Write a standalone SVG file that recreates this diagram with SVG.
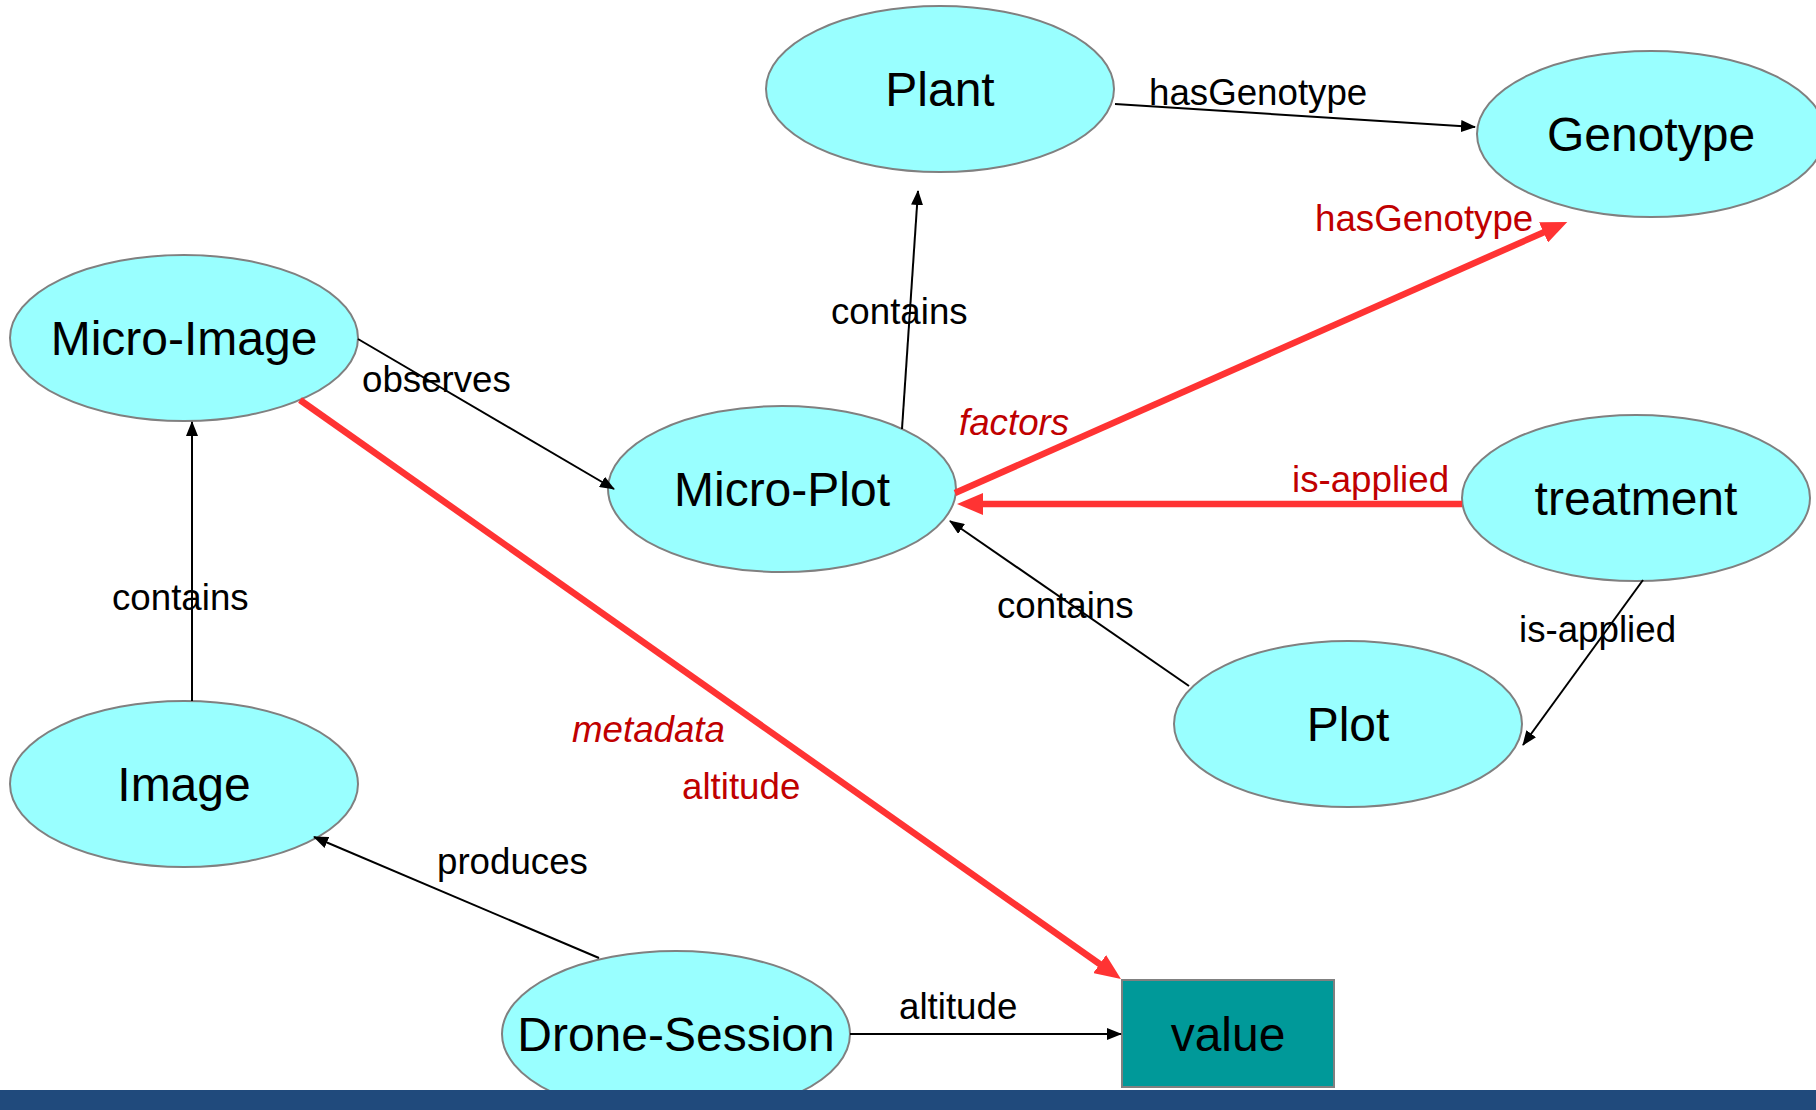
<svg xmlns="http://www.w3.org/2000/svg" width="1816" height="1110" viewBox="0 0 1816 1110">
<style>
.node{fill:#99FFFF;stroke:#808080;stroke-width:2}
.nt{font-family:"Liberation Sans",Arial,sans-serif;font-size:48px;fill:#000;text-anchor:middle}
.lbl{font-family:"Liberation Sans",Arial,sans-serif;font-size:36.7px;fill:#000}
.rl{font-family:"Liberation Sans",Arial,sans-serif;font-size:36.7px;fill:#C00000}
.it{font-style:italic}
.bl{stroke:#000;stroke-width:2;fill:none;marker-end:url(#ab)}
.rd{stroke:#FF3333;stroke-width:6.5;fill:none;marker-end:url(#ar)}
</style>
<defs>
<marker id="ab" markerUnits="userSpaceOnUse" markerWidth="15" markerHeight="12" refX="14" refY="6" orient="auto"><path d="M0,0 L15,6 L0,12 z" fill="#000"/></marker>
<marker id="ar" markerUnits="userSpaceOnUse" markerWidth="26" markerHeight="22" refX="6" refY="11" orient="auto"><path d="M0,0 L26,11 L0,22 z" fill="#FF3333"/></marker>
</defs>
<rect x="0" y="0" width="1816" height="1110" fill="#fff"/>
<g id="plant"><ellipse class="node" cx="940" cy="89" rx="174" ry="83"/><text class="nt" x="940" y="106">Plant</text></g>
<g id="genotype"><ellipse class="node" cx="1651" cy="134" rx="174" ry="83"/><text class="nt" x="1651" y="151">Genotype</text></g>
<g id="micro-image"><ellipse class="node" cx="184" cy="338" rx="174" ry="83"/><text class="nt" x="184" y="355">Micro-Image</text></g>
<g id="micro-plot"><ellipse class="node" cx="782" cy="489" rx="174" ry="83"/><text class="nt" x="782" y="506">Micro-Plot</text></g>
<g id="treatment"><ellipse class="node" cx="1636" cy="498" rx="174" ry="83"/><text class="nt" x="1636" y="515">treatment</text></g>
<g id="plot"><ellipse class="node" cx="1348" cy="724" rx="174" ry="83"/><text class="nt" x="1348" y="741">Plot</text></g>
<g id="image"><ellipse class="node" cx="184" cy="784" rx="174" ry="83"/><text class="nt" x="184" y="801">Image</text></g>
<g id="drone-session"><ellipse class="node" cx="676" cy="1034" rx="174" ry="83"/><text class="nt" x="676" y="1051">Drone-Session</text></g>
<g id="value"><rect x="1122" y="980" width="212" height="107" fill="#009999" stroke="#808080" stroke-width="2"/><text class="nt" x="1228" y="1051">value</text></g>
<rect id="footer-bar" x="0" y="1090" width="1816" height="20" fill="#204A7C"/>
<g id="connectors">
<line class="bl" x1="1115" y1="104" x2="1475" y2="127"/>
<line class="bl" x1="902" y1="429" x2="918" y2="191"/>
<line class="bl" x1="358" y1="339" x2="614" y2="489"/>
<line class="bl" x1="192" y1="701" x2="192" y2="422"/>
<line class="bl" x1="1189" y1="686" x2="950" y2="521"/>
<line class="bl" x1="1643" y1="580" x2="1523" y2="745"/>
<line class="bl" x1="599" y1="958" x2="314" y2="837"/>
<line class="bl" x1="850" y1="1034" x2="1121" y2="1034"/>
<line class="rd" x1="955" y1="493" x2="1549" y2="230"/>
<line class="rd" x1="1462" y1="504" x2="977" y2="504"/>
<line class="rd" x1="300" y1="400" x2="1104.6" y2="967.5"/>
<text class="lbl" x="1149" y="105">hasGenotype</text>
<text class="lbl" x="831" y="324">contains</text>
<text class="lbl" x="362" y="392">observes</text>
<text class="lbl" x="112" y="610">contains</text>
<text class="lbl" x="997" y="618">contains</text>
<text class="lbl" x="1519" y="642">is-applied</text>
<text class="lbl" x="437" y="874">produces</text>
<text class="lbl" x="899" y="1019">altitude</text>
<text class="rl" x="1315" y="231">hasGenotype</text>
<text class="rl it" x="959" y="435">factors</text>
<text class="rl" x="1292" y="492">is-applied</text>
<text class="rl it" x="572" y="742">metadata</text>
<text class="rl" x="682" y="799">altitude</text>
</g>
</svg>
